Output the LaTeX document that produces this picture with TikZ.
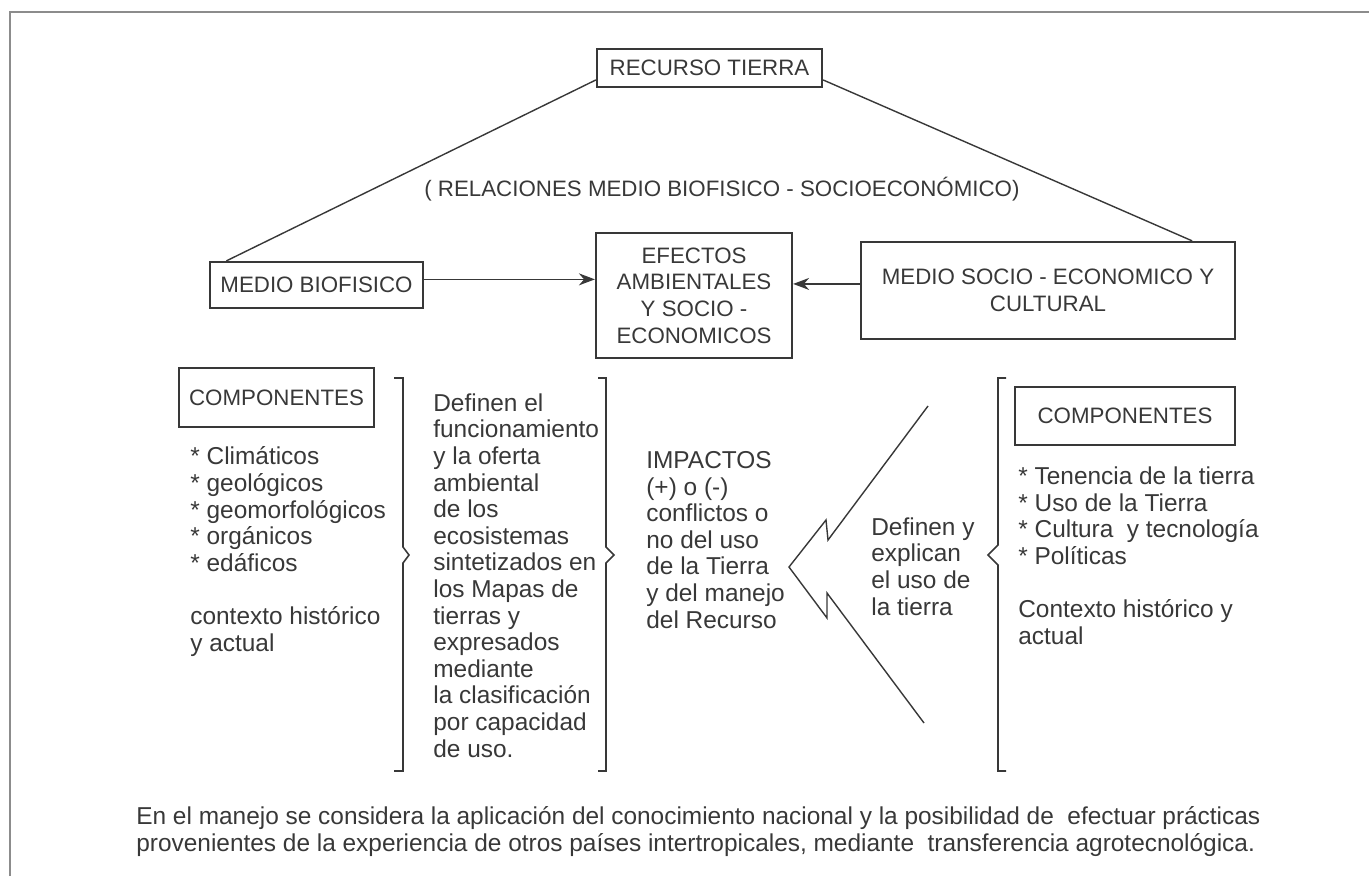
\documentclass[tikz,border=0pt]{standalone}
\usepackage{fontspec}
\setmainfont{Liberation Sans}
\usetikzlibrary{arrows.meta}
\definecolor{inkgray}{HTML}{383838}
\definecolor{framegray}{HTML}{8C8C8C}

\begin{document}
\begin{tikzpicture}[x=0.02cm, y=-0.02cm, inkgray,
  box/.style={draw, line width=1.3pt, align=center, inner sep=0pt, font=\fontsize{12.7}{15.14}\selectfont},
  txt/.style={anchor=base west, align=left, inner sep=0pt, font=\fontsize{13.9}{15.14}\selectfont},
  link/.style={line width=0.8pt},
  brace/.style={line width=0.9pt},
  tip/.style={-{Stealth[length=3.2mm, width=2.4mm]}}]
  \useasboundingbox (0,0) rectangle (1369,876);
  \draw[framegray, line width=1.2pt] (10,876) -- (10,12) -- (1369,12);

  % boxes
  \node[box, minimum width=4.5cm, minimum height=0.76cm] (rec) at (709.5,68) {RECURSO TIERRA};
  \node[box, minimum width=4.26cm, minimum height=0.92cm] (bio) at (316.5,285) {MEDIO BIOFISICO};
  \node[box, minimum width=3.92cm, minimum height=2.5cm] (efe) at (694,295.5) {EFECTOS\\AMBIENTALES\\Y SOCIO -\\ECONOMICOS};
  \node[box, minimum width=7.48cm, minimum height=1.94cm] (soc) at (1048,290.5) {MEDIO SOCIO - ECONOMICO Y\\CULTURAL};
  \node[box, minimum width=3.9cm, minimum height=1.18cm] (compL) at (276.5,397.5) {COMPONENTES};
  \node[box, minimum width=4.4cm, minimum height=1.16cm] (compR) at (1125,416) {COMPONENTES};
  \node[txt, font=\fontsize{12.7}{15.14}\selectfont] (rel) at (424,196) {( RELACIONES MEDIO BIOFISICO - SOCIOECONÓMICO)};

  % connectors
  \draw[link] (rec.186) -- (bio.165);
  \draw[link] (rec.354) -- (soc.19);
  \draw[link, tip] (bio.3) -- (bio.3 -| efe.west);
  \draw[link, tip] (soc.178) -- (soc.178 -| efe.east);

  % braces
  \draw[brace] (394,378) -- (403,378) -- (403,547) -- (409,555) -- (403,563) -- (403,771) -- (394,771);
  \draw[brace] (598,378) -- (606,378) -- (606,547) -- (614,555) -- (606,563) -- (606,771) -- (598,771);
  \draw[brace] (1006,378) -- (998,378) -- (998,545) -- (988,555) -- (998,565) -- (998,771) -- (1006,771);

  % big arrow
  \draw[link] (928,406) -- (828,540) -- (826,520) -- (789,567) -- (827,618) -- (827,593) -- (924,723);

  % texts (placed at the baseline of their last line)
  \node[txt] (listL) at (190,651) {* Climáticos\\* geológicos\\* geomorfológicos\\* orgánicos\\* edáficos\\[15.14pt]contexto histórico\\y actual};
  \node[txt] (funcion) at (433,757) {Definen el\\funcionamiento\\y la oferta\\ambiental\\de los\\ecosistemas\\sintetizados en\\los Mapas de\\tierras y\\expresados\\mediante\\la clasificación\\por capacidad\\de uso.};
  \node[txt] (impactos) at (646,628) {IMPACTOS\\(+) o (-)\\conflictos o\\no del uso\\de la Tierra\\y del manejo\\del Recurso};
  \node[txt] (definen) at (871,615) {Definen y\\explican\\el uso de\\la tierra};
  \node[txt] (listR) at (1018,644) {* Tenencia de la tierra\\* Uso de la Tierra\\* Cultura\ \ y tecnología\\* Políticas\\[15.14pt]Contexto histórico y\\actual};
  \node[txt] (nota) at (136,851) {En el manejo se considera la aplicación del conocimiento nacional y la posibilidad de\ \ efectuar prácticas\\provenientes de la experiencia de otros países intertropicales, mediante\ \ transferencia agrotecnológica.};
\end{tikzpicture}
\end{document}
